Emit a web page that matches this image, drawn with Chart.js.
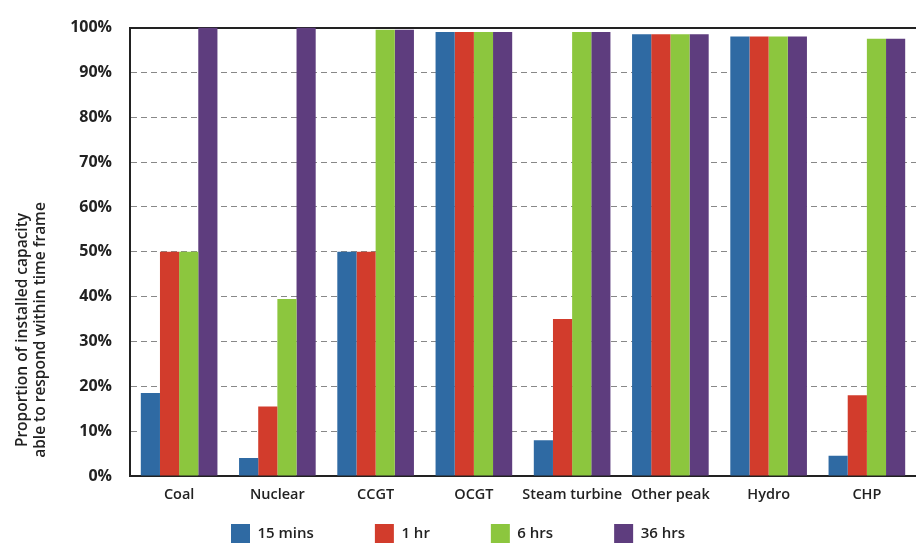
<!DOCTYPE html>
<html>
<head>
<meta charset="utf-8">
<script src="https://cdn.jsdelivr.net/npm/chart.js@4.4.1/dist/chart.umd.min.js"></script>
<style>
  html, body { margin: 0; padding: 0; background: #fff; overflow: hidden; }
  #wrap { width: 916px; height: 550px; }
</style>
</head>
<body>
<div id="wrap"><canvas id="chart"></canvas></div>
<script>
// categorias e séries
const categories = ['Coal', 'Nuclear', 'CCGT', 'OCGT', 'Steam turbine', 'Other peak', 'Hydro', 'CHP'];
const seriesNames = ['15 mins', '1 hr', '6 hrs', '36 hrs'];
const mins15 = [18.5, 4, 50, 99, 8, 98.5, 98, 4.5];
const hr1 = [50, 15.5, 50, 99, 35, 98.5, 98, 18];
const hrs6 = [50, 39.5, 99.5, 99, 99, 98.5, 98, 97.5];
const hrs36 = [100, 100, 99.5, 99, 99, 98.5, 98, 97.5];
const yTicks = [0, 10, 20, 30, 40, 50, 60, 70, 80, 90, 100];
const yTitle = ['Proportion of installed capacity', 'able to respond within time frame'];

const colors = ['#2f6aa3', '#d23c2c', '#8cc63e', '#5e3d7e'];
const fontFamily = "'Open Sans', 'Liberation Sans', sans-serif";

// título do eixo y, deslocado para baixo como no original
const yTitlePlugin = {
    id: 'yTitle',
    afterDraw(chart) {
        const ctx = chart.ctx;
        ctx.save();
        ctx.translate(0, 330);
        ctx.rotate(-Math.PI / 2);
        ctx.fillStyle = '#222';
        ctx.font = '600 15.5px ' + fontFamily;
        ctx.textAlign = 'center';
        ctx.textBaseline = 'middle';
        ctx.fillText(yTitle[0], 0, 23);
        ctx.fillText(yTitle[1], 0, 41);
        ctx.restore();
    }
};

// legenda com espaçamento largo entre itens, mas pouco alta
const legendSpacing = {
    id: 'legendSpacing',
    beforeInit(chart) {
        const legend = chart.legend;
        const fit = legend.fit;
        legend.fit = function () {
            fit.call(this);
            this.height = 42;
        };
        const draw = legend._draw;
        legend._draw = function () {
            const top = this.top;
            this.top = top - this.options.labels.padding + 16;
            draw.call(this);
            this.top = top;
        };
    }
};

const datasets = [mins15, hr1, hrs6, hrs36].map((values, i) => ({
    label: seriesNames[i],
    data: values,
    backgroundColor: colors[i],
    borderWidth: 0,
    categoryPercentage: 0.78,
    barPercentage: 1.0
}));

new Chart(document.getElementById('chart'), {
    type: 'bar',
    data: { labels: categories, datasets: datasets },
    options: {
        responsive: true,
        maintainAspectRatio: false,
        animation: false,
        layout: { padding: { left: 0, top: 1, right: 0, bottom: 0 } },
        scales: {
            x: {
                afterFit(axis) {
                    axis.height = 32;
                },
                grid: { display: false, drawTicks: false },
                border: { display: true, color: '#222', width: 2 },
                ticks: {
                    color: '#222',
                    padding: 10,
                    maxRotation: 0,
                    autoSkip: false,
                    font: { family: fontFamily, size: 14.5, weight: '600' }
                }
            },
            y: {
                min: 0,
                max: 100,
                afterBuildTicks(axis) {
                    axis.ticks = yTicks.map(v => ({ value: v }));
                },
                afterFit(axis) {
                    axis.width = 130;
                },
                grid: {
                    drawTicks: false,
                    color: ctx => ctx.tick.value === 100 ? '#222' : '#888',
                    lineWidth: ctx => ctx.tick.value === 100 ? 2 : 1
                },
                border: {
                    display: true,
                    color: '#222',
                    width: 2,
                    dash: ctx => ctx.tick && ctx.tick.value === 100 ? [] : [6, 4]
                },
                ticks: {
                    color: '#222',
                    padding: 18,
                    font: { family: fontFamily, size: 16, weight: '700' },
                    callback: v => v + '%'
                }
            }
        },
        plugins: {
            legend: {
                position: 'bottom',
                labels: {
                    color: '#222',
                    boxWidth: 19,
                    boxHeight: 19,
                    padding: 61,
                    font: { family: fontFamily, size: 15, weight: '600' }
                }
            },
            tooltip: { enabled: false }
        }
    },
    plugins: [yTitlePlugin, legendSpacing]
});
</script>
</body>
</html>
